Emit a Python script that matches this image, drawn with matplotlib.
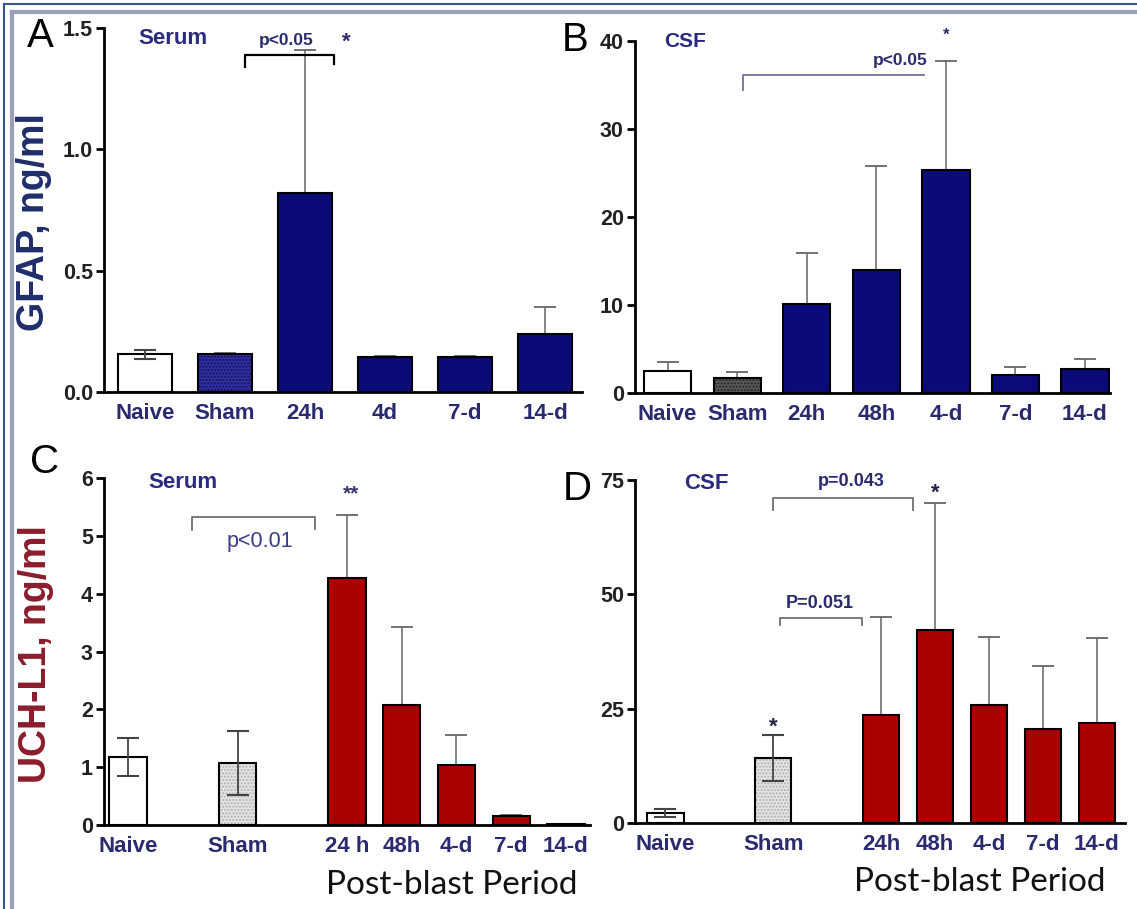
import numpy as np
import matplotlib
matplotlib.use("Agg")
import matplotlib.pyplot as plt
from matplotlib.lines import Line2D

plt.rcParams['font.family'] = ['Liberation Sans', 'DejaVu Sans']

# ---- data ----
gfap_serum_cats = ['Naive', 'Sham', '24h', '4d', '7-d', '14-d']
gfap_serum_mean = [0.155, 0.155, 0.82, 0.145, 0.145, 0.24]
gfap_serum_err = [0.018, 0.005, 0.59, 0.003, 0.003, 0.11]

gfap_csf_cats = ['Naive', 'Sham', '24h', '48h', '4-d', '7-d', '14-d']
gfap_csf_mean = [2.5, 1.7, 10.1, 14.0, 25.3, 2.0, 2.7]
gfap_csf_err = [1.0, 0.65, 5.8, 11.8, 12.4, 1.0, 1.2]

uch_serum_cats = ['Naive', 'Sham', '24 h', '48h', '4-d', '7-d', '14-d']
uch_serum_mean = [1.18, 1.07, 4.27, 2.08, 1.04, 0.15, 0.02]
uch_serum_err = [0.33, 0.55, 1.09, 1.35, 0.51, 0.02, 0.0]

uch_csf_cats = ['Naive', 'Sham', '24h', '48h', '4-d', '7-d', '14-d']
uch_csf_mean = [2.2, 14.2, 23.6, 42.2, 25.8, 20.6, 21.9]
uch_csf_err = [0.8, 5.0, 21.5, 27.8, 14.9, 13.8, 18.6]

# bar slots used in the lower row (gap after Naive and Sham)
uch_pos = [0, 2, 4, 5, 6, 7, 8]

NAVY = '#0a0a78'
RED = '#aa0000'
TXT = '#2a2a6e'
W, H = 1137, 909

fig = plt.figure(figsize=(W / 100, H / 100), dpi=100)


def rect(l, r, t, b):
    return [l / W, (H - b) / H, (r - l) / W, (b - t) / H]


def panel(box, pos, cats, mean, err, colors, sham_face, sham_hatch, both, ylim, yticks, ytl, xlim):
    ax = fig.add_axes(box)
    for i, (x, m) in enumerate(zip(pos, mean)):
        if i == 1:
            ax.bar(x, m, 0.68, color=sham_face, edgecolor=sham_hatch, hatch='.....', linewidth=0, zorder=2)
            ax.bar(x, m, 0.68, fill=False, edgecolor='black', linewidth=1.5, zorder=3)
        else:
            ax.bar(x, m, 0.68, color=colors[i], edgecolor='black', linewidth=1.5, zorder=2)
        if both[i]:
            ax.errorbar(x, m, yerr=err[i], color='#444444', capsize=8, elinewidth=1.3, capthick=1.5, zorder=4)
        else:
            ax.errorbar(x, m, yerr=[[0], [err[i]]], color='#666666', capsize=8, elinewidth=1.1, capthick=1.3, zorder=1)
    ax.set_xlim(*xlim)
    ax.set_ylim(*ylim)
    ax.set_yticks(yticks)
    ax.set_yticklabels(ytl, fontsize=15.5, fontweight='bold', color='#222222')
    ax.set_xticks(pos)
    ax.set_xticklabels(cats, fontsize=16, fontweight='bold', color=TXT)
    ax.tick_params(axis='x', length=0, pad=8)
    ax.tick_params(axis='y', length=6, width=2, pad=2)
    for s in ['top', 'right']:
        ax.spines[s].set_visible(False)
    for s in ['left', 'bottom']:
        ax.spines[s].set_linewidth(2)
    return ax


def bracket(ax, x1, x2, y, yl, yr, color, lw=1.3):
    xs, ys = [x2, x2, x1, x1], [yr, y, y, yl]
    ax.plot(xs, ys, color=color, lw=lw, clip_on=False, zorder=5)


# A: GFAP serum
axA = panel(rect(104, 582, 28, 392), list(range(6)), gfap_serum_cats, gfap_serum_mean, gfap_serum_err,
            ['white', None, NAVY, NAVY, NAVY, NAVY], '#3030a0', '#12125a',
            [True, False, False, False, False, False],
            (0, 1.5), [0, 0.5, 1.0, 1.5], ['0.0', '0.5', '1.0', '1.5'], (-0.51, 5.46))
bracket(axA, 1.25, 2.36, 1.39, 1.34, 1.35, 'black', 1.6)
axA.text(0.35, 1.455, 'Serum', fontsize=16, fontweight='bold', color='#2a2a80', ha='center', va='center')
axA.text(1.77, 1.45, 'p<0.05', fontsize=12.5, fontweight='bold', color=TXT, ha='center', va='center')
axA.text(2.51, 1.44, '*', fontsize=16, fontweight='bold', color=TXT, ha='center', va='center')

# B: GFAP CSF
axB = panel(rect(635, 1110, 41, 393), list(range(7)), gfap_csf_cats, gfap_csf_mean, gfap_csf_err,
            ['white', None, NAVY, NAVY, NAVY, NAVY, NAVY], '#5a5a5a', '#222222',
            [False] * 7,
            (0, 40), [0, 10, 20, 30, 40], ['0', '10', '20', '30', '40'], (-0.47, 6.36))
axB.plot([1.09, 1.09, 3.68], [34.4, 36.1, 36.1], color='#7070a0', lw=1.3, clip_on=False)
axB.text(0.25, 39.9, 'CSF', fontsize=15, fontweight='bold', color='#2a2a80', ha='center', va='center')
axB.text(3.35, 37.8, 'p<0.05', fontsize=12.5, fontweight='bold', color=TXT, ha='center', va='center')
axB.text(4.0, 40.6, '*', fontsize=12, fontweight='bold', color=TXT, ha='center', va='center')

# C: UCH-L1 serum
axC = panel(rect(104, 590, 478, 825), uch_pos, uch_serum_cats, uch_serum_mean, uch_serum_err,
            ['white', None, RED, RED, RED, RED, RED], '#e4e4e4', '#b0b0b0',
            [True, True, False, False, False, False, False],
            (0, 6), list(range(7)), [str(v) for v in range(7)], (-0.44, 8.44))
bracket(axC, 1.17, 3.41, 5.33, 5.1, 5.12, '#707070')
axC.text(1.0, 5.93, 'Serum', fontsize=16, fontweight='bold', color='#2a2a80', ha='center', va='center')
axC.text(2.4, 4.91, 'p<0.01', fontsize=15.5, color='#3a3a8a', ha='center', va='center')
axC.text(4.08, 5.72, '**', fontsize=15, fontweight='bold', color='#3a3a6a', ha='center', va='center')

# D: UCH-L1 CSF
axD = panel(rect(635, 1125, 480, 823), uch_pos, uch_csf_cats, uch_csf_mean, uch_csf_err,
            ['white', None, RED, RED, RED, RED, RED], '#e4e4e4', '#b0b0b0',
            [True, True, False, False, False, False, False],
            (0, 75), [0, 25, 50, 75], ['0', '25', '50', '75'], (-0.56, 8.52))
bracket(axD, 2.0, 4.6, 71.1, 68.5, 68.5, '#707070')
bracket(axD, 2.13, 3.65, 44.9, 43.3, 43.3, '#707070')
axD.text(0.76, 74.2, 'CSF', fontsize=16, fontweight='bold', color='#2a2a80', ha='center', va='center')
axD.text(3.44, 74.6, 'p=0.043', fontsize=13, fontweight='bold', color=TXT, ha='center', va='center')
axD.text(2.87, 47.9, 'P=0.051', fontsize=13, fontweight='bold', color=TXT, ha='center', va='center')
axD.text(2.0, 21.0, '*', fontsize=16, fontweight='bold', color='#222244', ha='center', va='center')
axD.text(5.0, 72.2, '*', fontsize=16, fontweight='bold', color='#222244', ha='center', va='center')

# panel letters and shared labels
for lab, x, y in [('A', 40, 36), ('B', 575, 40), ('C', 45, 462), ('D', 577, 489)]:
    fig.text(x / W, 1 - y / H, lab, fontsize=29, ha='center', va='center')
fig.text(34 / W, 1 - 222 / H, 'GFAP, ng/ml', rotation=90, fontsize=27, fontweight='bold',
         color='#1f2d6b', ha='center', va='center')
fig.text(36 / W, 1 - 654 / H, 'UCH-L1, ng/ml', rotation=90, fontsize=27, fontweight='bold',
         color='#8c1c2c', ha='center', va='center')
for x, y in [(452, 885), (980, 882)]:
    fig.text(x / W, 1 - y / H, 'Post-blast Period', fontsize=24, family=['Lato', 'DejaVu Sans'],
             color='#111111', ha='center', va='center')

# frame around the figure
for x0, x1, y0, y1, c, lw in [(4, W, 4, 4, '#34588a', 1.5), (12, W, 12, 12, '#9aa0b8', 3),
                              (4, 4, 4, H, '#34588a', 1.5), (12, 12, 12, H, '#9aa0b8', 3)]:
    fig.add_artist(Line2D([x0 / W, x1 / W], [1 - y0 / H, 1 - y1 / H], color=c, lw=lw))

fig.savefig('out.png', dpi=100, facecolor='white')
